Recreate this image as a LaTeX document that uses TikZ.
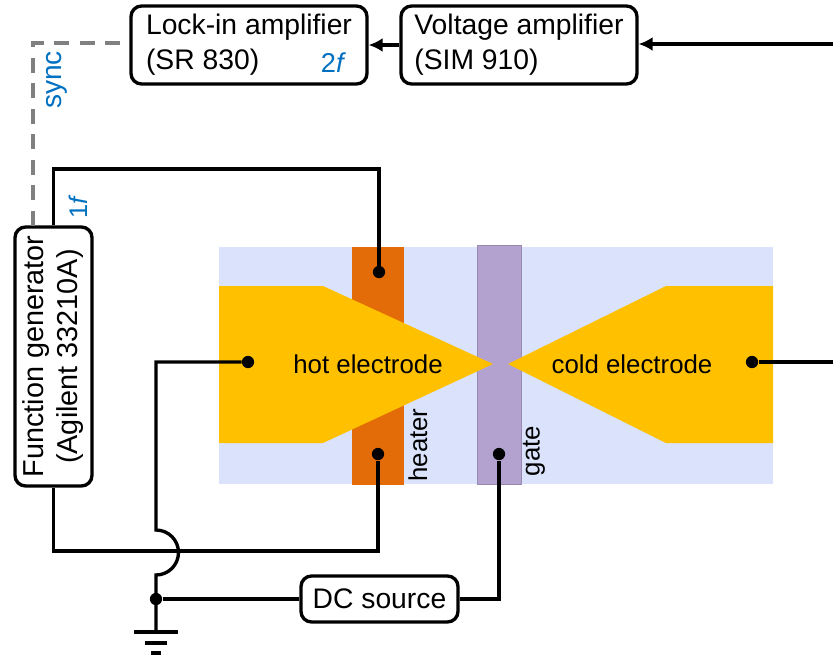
\documentclass[tikz,border=0pt]{standalone}
\usepackage{fontspec}
\setmainfont{Liberation Sans}
\usetikzlibrary{positioning,calc,arrows.meta}
\definecolor{substrate}{HTML}{DAE3FB}
\definecolor{heatercol}{HTML}{E36C09}
\definecolor{gatecol}{HTML}{B3A2D0}
\definecolor{goldcol}{HTML}{FFC000}
\definecolor{labelblue}{HTML}{0070C0}
\tikzset{
  box/.style      = {draw=black, fill=white, rounded corners=6pt, line width=1.9pt, inner sep=0pt, align=left, font=\fontsize{16.1}{19.8}\selectfont},
  wire/.style     = {draw=black, line width=1.9pt},
  syncwire/.style = {draw=black!50, line width=1.9pt, dash pattern=on 8.5pt off 6pt},
  arrowto/.style  = {wire, -{Latex[length=8pt,width=8pt]}},
  joint/.style    = {circle, fill=black, inner sep=0pt, minimum size=7pt},
  elec/.style     = {fill=goldcol, draw=none},
  lbl/.style      = {font=\fontsize{14.7}{17}\selectfont, inner sep=0pt},
  bluelbl/.style  = {font=\fontsize{14.5}{17}\selectfont, text=labelblue, inner sep=0pt},
}
\begin{document}
\begin{tikzpicture}[x=0.02cm,y=-0.02cm]
  \useasboundingbox (0,0) rectangle (833,657);

  % device
  \fill[substrate] (219,247) rectangle (773,484);
  \fill[heatercol] (352,247) rectangle (404,485);
  \draw[fill=gatecol, draw=gatecol!85!black, line width=0.4pt] (477,245) rectangle (521,484);
  \fill[elec] (219,286) -- (323,286) -- (493,364) -- (323,443) -- (219,443) -- cycle;
  \fill[elec] (773,286) -- (666,286) -- (508,364) -- (666,443) -- (773,443) -- cycle;
  \node[lbl] (hotlbl) at (368,364) {hot electrode};
  \node[lbl] (coldlbl) at (632,364) {cold electrode};
  \node[lbl, rotate=90] (heaterlbl) at (418,445) {heater};
  \node[lbl, rotate=90] (gatelbl) at (534,451) {gate};

  % instruments
  \node[box, minimum width=4.72cm, minimum height=1.56cm] (lockin) at (249,45) {Lock-in amplifier\\(SR 830)};
  \node[box, minimum width=4.72cm, minimum height=1.56cm] (volt) at (519,45) {Voltage amplifier\\(SIM 910)};
  \node[box, rotate=90, align=center, minimum width=5.18cm, minimum height=1.54cm, font=\fontsize{16.4}{19.3}\selectfont] (gen) at (53.5,356.5) {Function generator\\(Agilent 33210A)};
  \node[box, minimum width=3.14cm, minimum height=0.92cm] (dc) at (379.5,599) {DC source};
  \node[bluelbl, font=\fontsize{15.5}{18}\selectfont] (twof) at (333.5,63) {2\textit{f}};
  \node[bluelbl, rotate=90] (onef) at (78,207) {1\textit{f}};
  \node[bluelbl, rotate=90, font=\fontsize{16}{18}\selectfont] (synclbl) at (57,80) {sync};

  % contact points
  \node[joint] (htop) at (379,272) {};
  \node[joint] (hbot) at (378,454) {};
  \node[joint] (hot) at (248,362) {};
  \node[joint] (cold) at (752,362) {};
  \node[joint] (gatept) at (499,454) {};
  \node[joint] (gnd) at (156,599) {};
  \coordinate (sigin) at (833,44);
  \coordinate (coldout) at (833,362);
  \coordinate (syncstart) at (120,43);
  \coordinate (syncend) at (33,227);
  \coordinate (jumptop) at (156,530);
  \coordinate (earth) at (156,632);

  % wiring
  \draw[arrowto] (sigin) -- (volt.east |- sigin);
  \draw[arrowto] (volt.west) -- (lockin.east);
  \draw[syncwire] (syncstart) -| (syncend);
  \draw[wire] (gen.east) |- (169,169) -| (htop);
  \draw[wire] (gen.west) |- (300,551) -| (hbot);
  \draw[wire] (hot) -| (jumptop) arc[start angle=-90, end angle=90, radius=22.5] -- (earth);
  \draw[wire] (gnd) -- (dc.west);
  \draw[wire] (dc.east) -| (gatept);
  \draw[wire] (cold) -- (coldout);

  % ground
  \draw[wire] ($(earth)+(-22,0)$) -- ($(earth)+(22,0)$);
  \draw[wire] ($(earth)+(-11,11)$) -- ($(earth)+(11,11)$);
  \draw[wire] ($(earth)+(-5,21)$) -- ($(earth)+(5,21)$);
\end{tikzpicture}
\end{document}
